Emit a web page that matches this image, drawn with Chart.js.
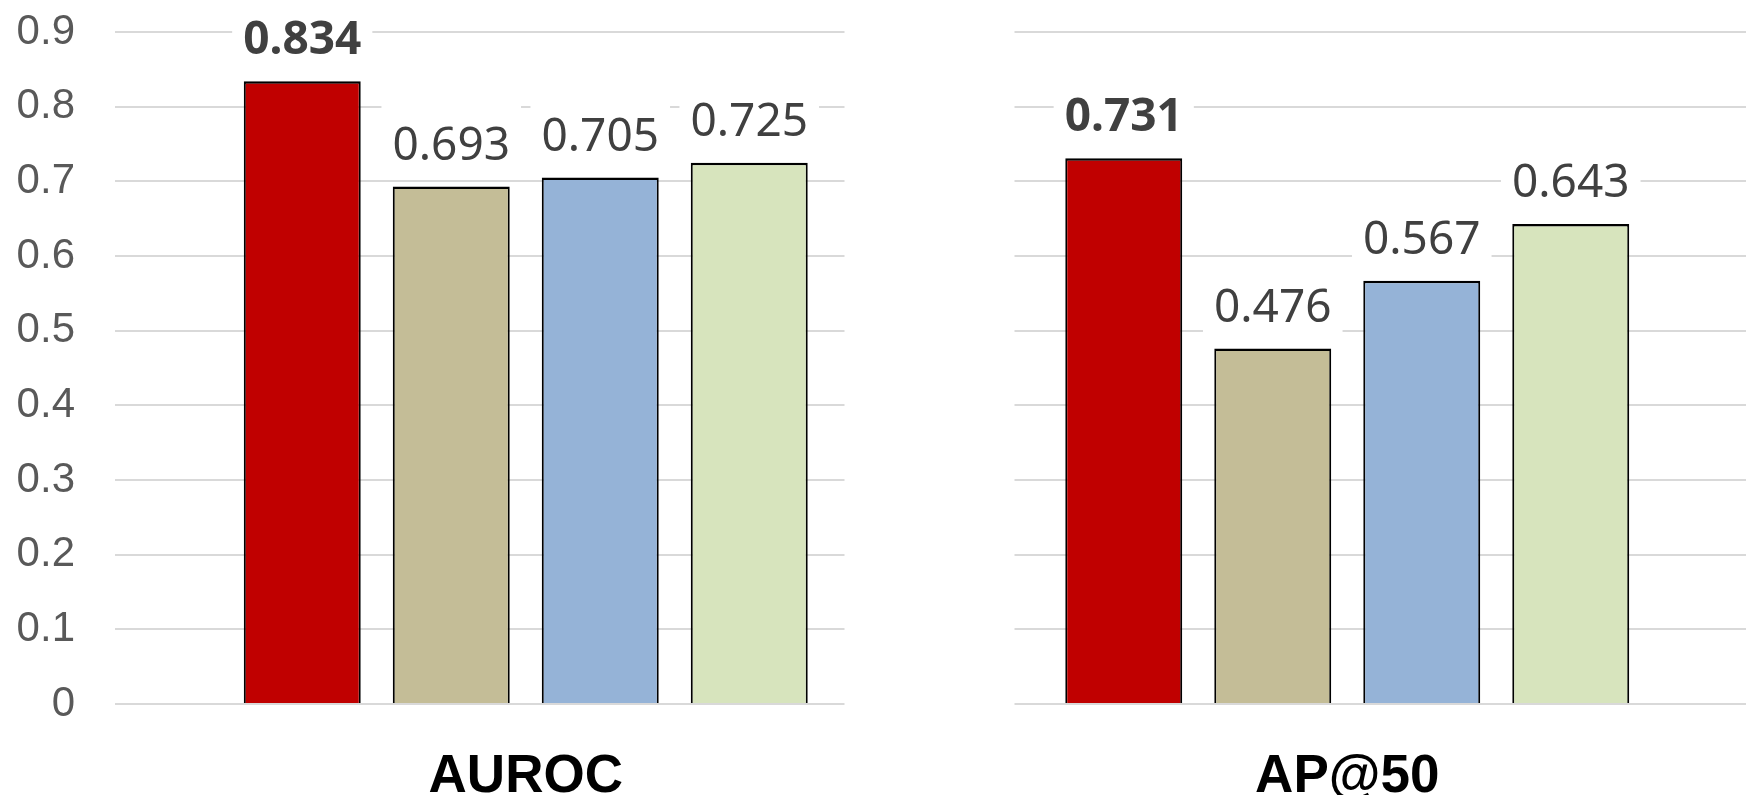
<!DOCTYPE html>
<html>
<head>
<meta charset="utf-8">
<title>AUROC / AP@50</title>
<script src="https://cdn.jsdelivr.net/npm/chart.js@4"></script>
<style>
    html, body { margin: 0; padding: 0; background: #fff; overflow: hidden; }
    #wrap { position: absolute; left: 0; top: 0; width: 1758px; height: 795px; }
</style>
</head>
<body>
<div id="wrap"><canvas id="chart"></canvas></div>
<script>
// Chart data
const categories = ['AUROC', 'AP@50'];
const seriesNames = ['Series 1', 'Series 2', 'Series 3', 'Series 4'];
const series1 = [0.834, 0.731];
const series2 = [0.693, 0.476];
const series3 = [0.705, 0.567];
const series4 = [0.725, 0.643];
const seriesColors = ['#C00000', '#C4BD97', '#95B3D7', '#D7E4BD'];
const yTickLabels = ['0', '0.1', '0.2', '0.3', '0.4', '0.5', '0.6', '0.7', '0.8', '0.9'];

// White gap in the gridlines between the two groups
const gapMask = {
    id: 'gapMask',
    beforeDatasetsDraw(chart) {
        const { ctx, chartArea, scales } = chart;
        const mid = (scales.x.getPixelForTick(0) + scales.x.getPixelForTick(1)) / 2;
        ctx.save();
        ctx.fillStyle = '#fff';
        ctx.fillRect(mid - 92, chartArea.top - 4, 170, chartArea.bottom - chartArea.top + 8);
        ctx.restore();
    }
};

// Value labels above the bars, on a white box
const valueLabels = {
    id: 'valueLabels',
    afterDatasetsDraw(chart) {
        const ctx = chart.ctx;
        ctx.save();
        chart.data.datasets.forEach((ds, i) => {
            const meta = chart.getDatasetMeta(i);
            meta.data.forEach((bar, j) => {
                const text = ds.data[j].toFixed(3);
                ctx.font = (i === 0 ? 'bold ' : '') + '46px "Noto Sans"';
                const w = ctx.measureText(text).width;
                const base = bar.y - 27;
                ctx.fillStyle = '#fff';
                ctx.fillRect(bar.x - w / 2 - 11, base - 56, w + 22, 67);
                ctx.fillStyle = '#404040';
                ctx.textAlign = 'center';
                ctx.textBaseline = 'alphabetic';
                ctx.fillText(text, bar.x, base);
            });
        });
        ctx.restore();
    }
};

const allSeries = [series1, series2, series3, series4];

new Chart(document.getElementById('chart'), {
    type: 'bar',
    data: {
        labels: categories,
        datasets: allSeries.map((values, i) => ({
            label: seriesNames[i],
            data: values,
            backgroundColor: seriesColors[i],
            borderColor: '#000',
            borderWidth: { top: 2.5, left: 2, right: 2, bottom: 0 },
            borderSkipped: 'start',
            categoryPercentage: 0.7255,
            barPercentage: 0.785
        }))
    },
    options: {
        responsive: true,
        maintainAspectRatio: false,
        animation: false,
        layout: { padding: { top: 32, left: 0, right: 0, bottom: 0 } },
        plugins: {
            legend: { display: false },
            tooltip: { enabled: false }
        },
        scales: {
            x: {
                grid: { display: false, drawTicks: false },
                border: { display: false },
                ticks: {
                    color: '#000',
                    padding: 42,
                    font: { family: '"Liberation Sans", Arial, sans-serif', size: 53, weight: 'bold' }
                },
                afterFit(scale) { scale.height = 91; }
            },
            y: {
                min: 0,
                max: 0.9,
                grid: { color: '#d9d9d9', lineWidth: 2, drawTicks: false },
                border: { display: false },
                ticks: {
                    stepSize: 0.1,
                    padding: 40,
                    color: '#595959',
                    font: { family: '"Liberation Sans", Arial, sans-serif', size: 42 },
                    callback: (value, index) => yTickLabels[index]
                },
                afterFit(scale) {
                    scale.width = 115;
                    scale.paddingTop = 0;
                    scale.paddingBottom = 0;
                }
            }
        }
    },
    plugins: [gapMask, valueLabels]
});
</script>
</body>
</html>
